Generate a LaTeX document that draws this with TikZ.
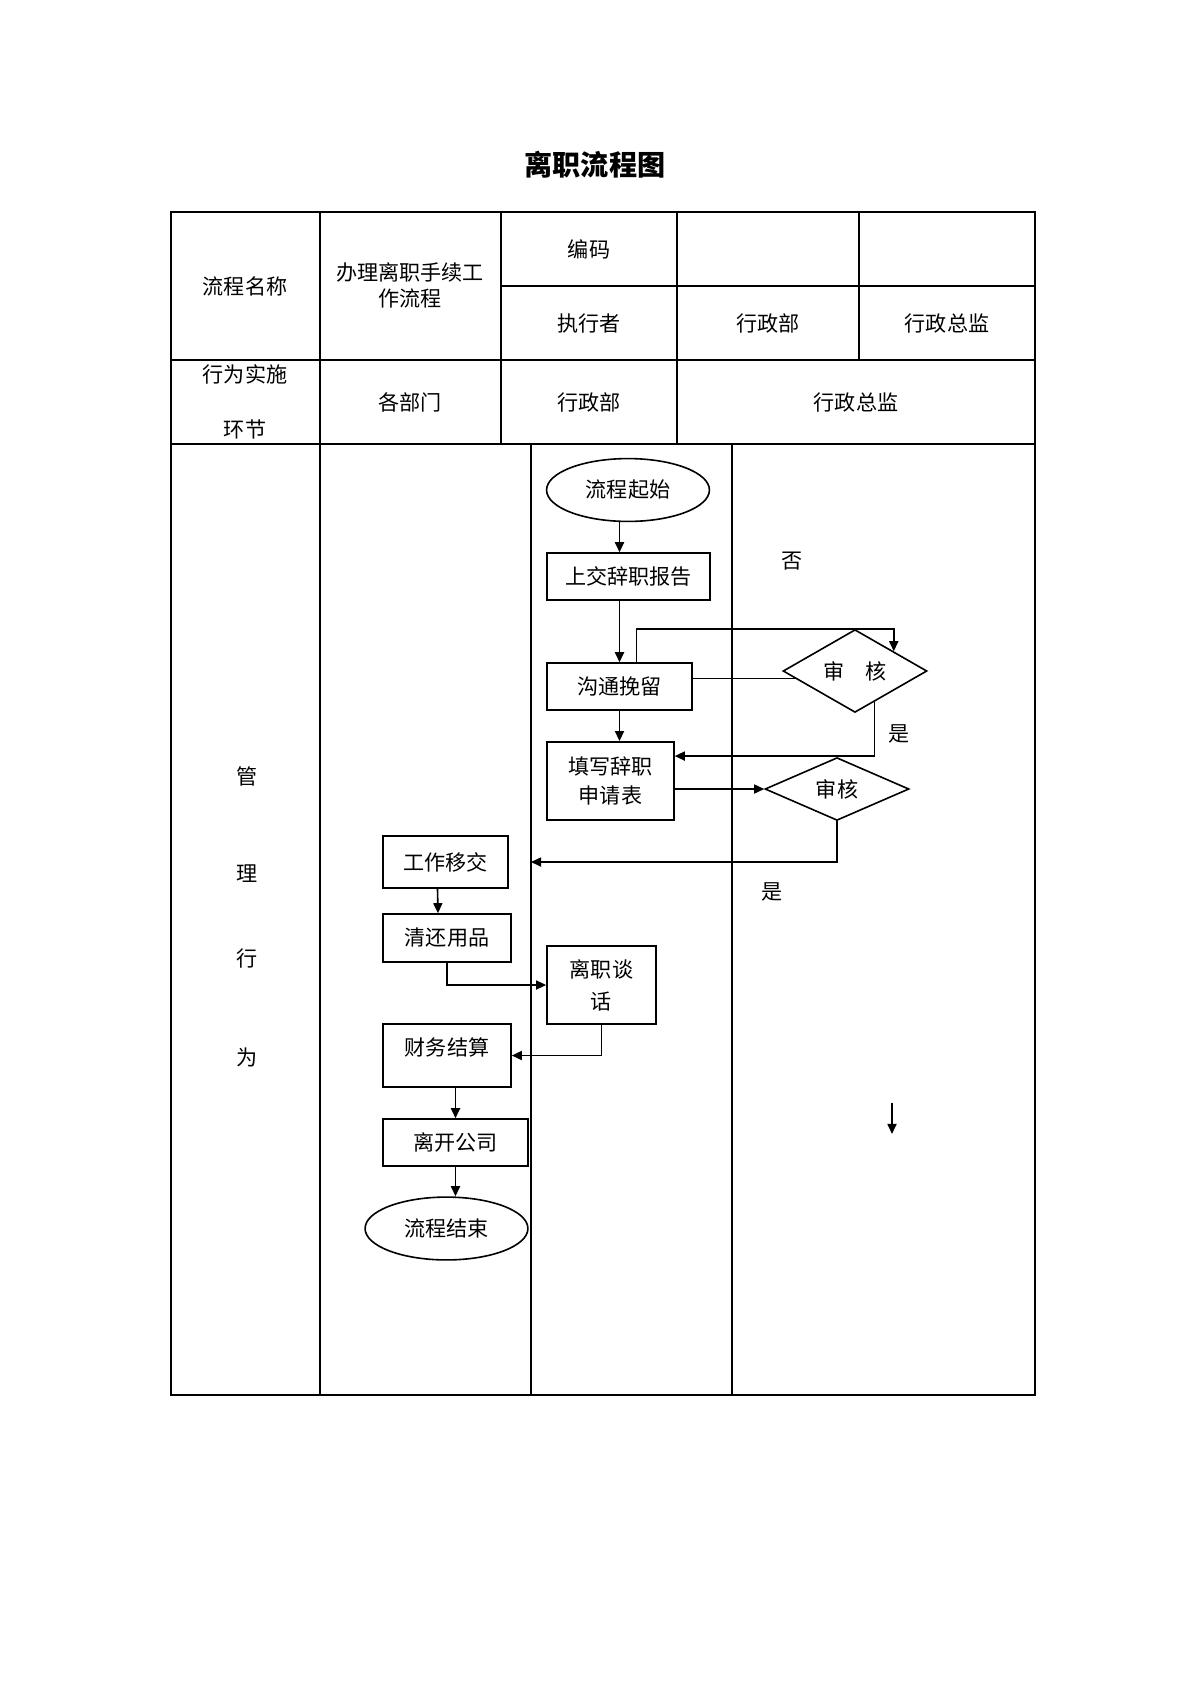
\documentclass[tikz,border=0pt]{standalone}
\usepackage{fontspec}
\usepackage{tikz}
\usetikzlibrary{shapes.geometric,arrows.meta,calc}
\newfontfamily\cjk{Noto Sans CJK SC}

\begin{document}
\begin{tikzpicture}[
		x=0.0175cm, y=-0.0175cm,
		txt/.style={font=\cjk\fontsize{10.5}{13}\selectfont, align=center, inner sep=0pt},
		tbl/.style={draw=black, line width=0.6pt},
		lane/.style={draw=black, line width=0.9pt},
		box/.style={rectangle, draw=black, line width=0.8pt, txt, minimum height=0.82cm},
		term/.style={ellipse, draw=black, line width=0.8pt, txt, minimum width=2.85cm, minimum height=1.1cm},
		check/.style={diamond, draw=black, line width=0.8pt, txt, minimum width=2.52cm},
		arrow/.style={-{Triangle[length=5pt,width=4.5pt]}, line width=0.8pt, black},
		link/.style={line width=0.8pt, black}
	]
	\useasboundingbox (0,0) rectangle (1200,1698);

	% Title
	\node[txt, font=\cjk\bfseries\fontsize{14}{16}\selectfont] (title) at (595,165) {离职流程图};

	% Table frame
	\draw[tbl] (171,212) rectangle (1035,1395);
	\draw[tbl] (171,360) -- (1035,360);
	\draw[tbl] (171,444) -- (1035,444);
	\draw[tbl] (501,286) -- (1035,286);
	\draw[tbl] (320,212) -- (320,1395);
	\draw[tbl] (501,212) -- (501,444);
	\draw[tbl] (677,212) -- (677,444);
	\draw[tbl] (859,212) -- (859,360);

	% Lanes
	\coordinate (lane1) at (531,444);
	\coordinate (lane2) at (732,444);
	\draw[lane] (lane1) -- (531,1395);
	\draw[lane] (lane2) -- (732,1395);

	% Header
	\node[txt] (name) at (245,286) {流程名称};
	\node[txt] (proc) at (410,285) {办理离职手续工\\作流程};
	\node[txt] (code) at (589,249) {编码};
	\node[txt] (exec) at (589,323) {执行者};
	\node[txt] (execa) at (768,323) {行政部};
	\node[txt] (execb) at (947,323) {行政总监};
	\node[txt] (stage) at (245,401.5) {行为实施\\[14.5pt]环节};
	\node[txt] (deptall) at (410,402) {各部门};
	\node[txt] (depta) at (589,402) {行政部};
	\node[txt] (deptb) at (856,402) {行政总监};

	% Side label
	\node[txt] (mgmt1) at (247,776) {管};
	\node[txt] (mgmt2) at (247,874) {理};
	\node[txt] (mgmt3) at (247,958) {行};
	\node[txt] (mgmt4) at (247,1057) {为};

	% Administration lane
	\node[term] (start) at (628,490) {流程起始};
	\node[box, minimum width=2.85cm] (submit) at (628.5,576.5) {上交辞职报告};
	\node[box, minimum width=2.54cm] (retain) at (619.5,686.5) {沟通挽留};
	\node[box, minimum width=2.22cm, minimum height=1.37cm] (form) at (610.5,781) {填写辞职\\[1.5pt]申请表};
	\node[box, minimum width=1.91cm, minimum height=1.37cm] (talk) at (601.5,985) {离职谈\\[3pt]话};

	% Director lane
	\node[check, minimum height=1.35cm] (chk1) at (855,671) {审\quad 核};
	\node[check, minimum height=1.1cm] (chk2) at (837,789) {审核};
	\node[txt] (no) at (792,561) {否};
	\node[txt] (yes1) at (899,734) {是};
	\node[txt] (yes2) at (772,892) {是};

	% Department lane
	\node[box, minimum width=2.19cm, minimum height=0.91cm] (handover) at (445.5,862) {工作移交};
	\node[box, minimum width=2.24cm, minimum height=0.84cm] (giveback) at (447,938) {清还用品};
	\node[box, minimum width=2.24cm, minimum height=1.1cm, text depth=9pt] (finance) at (447,1055.5) {财务结算};
	\node[box, minimum width=2.54cm] (leave) at (455.5,1142.5) {离开公司};
	\node[term] (finish) at (446.5,1228.5) {流程结束};

	% Arrows
	\draw[arrow] (start.south -| retain) -- (submit.north -| retain);
	\draw[arrow] (submit.south -| retain) -- (retain.north);
	\draw[arrow] (retain.south) -- (form.north -| retain);
	\draw[arrow] ($(retain.north)+(17,0)$) |- (chk1.north -| chk1.27) -- (chk1.27);
	\draw[link] (chk1.187) -- (chk1.187 -| retain.east);
	\draw[arrow] (chk1.302) |- ($(form.north east)+(0,15)$);
	\draw[arrow] (form.east |- chk2.west) -- (chk2.west);
	\draw[arrow] (chk2.south) |- (lane1 |- handover);
	\draw[arrow] ($(handover.south)+(-8,0)$) -- ($(giveback.north)+(-9,0)$);
	\draw[arrow] (giveback.south) |- (talk.west);
	\draw[arrow] (talk.south) |- (finance.east);
	\draw[arrow] (finance.south -| leave) -- (leave.north);
	\draw[arrow] (leave.south) -- (leave.south |- finish.north);
	\coordinate (stray) at (892,1103);
	\draw[arrow] (stray) -- ++(0,31);

\end{tikzpicture}
\end{document}
